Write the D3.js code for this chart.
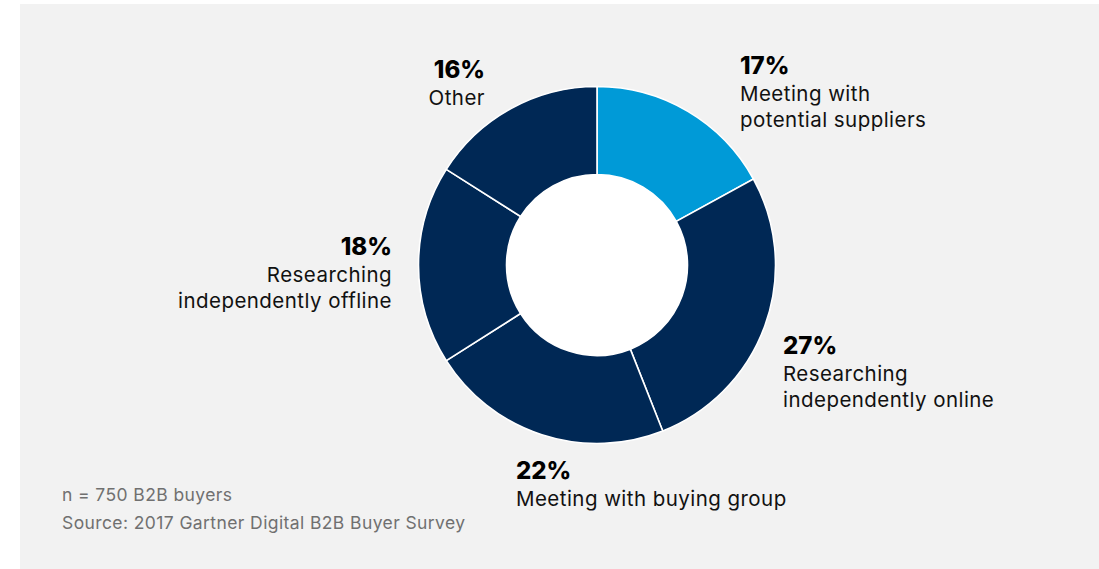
<!DOCTYPE html>
<html>
<head>
<meta charset="utf-8">
<script src="https://cdn.jsdelivr.net/npm/d3@7"></script>
<style>
  html, body { margin: 0; padding: 0; background: #ffffff; }
  svg { display: block; font-family: Inter, "Noto Sans", sans-serif; }
</style>
</head>
<body>
<svg id="chart" width="1099" height="569"></svg>
<script>
// ---- Data ----
const categories = ["Meeting with potential suppliers", "Researching independently online", "Meeting with buying group", "Researching independently offline", "Other"];
const values = [17, 27, 22, 18, 16];
const labelLines = [
  ["Meeting with", "potential suppliers"],
  ["Researching", "independently online"],
  ["Meeting with buying group"],
  ["Researching", "independently offline"],
  ["Other"]
];
const colors = ["#009ad7", "#002855", "#002855", "#002855", "#002855"];
const footnotes = ["n = 750 B2B buyers", "Source: 2017 Gartner Digital B2B Buyer Survey"];

// ---- Layout ----
const W = 1099, H = 569;
const cx = 597, cy = 265, outerR = 178.5, innerR = 90.5;
const labelPos = [
  { x: 740, y: 74, anchor: "start" },
  { x: 783, y: 354, anchor: "start" },
  { x: 516, y: 479, anchor: "start" },
  { x: 392, y: 255, anchor: "end" },
  { x: 485, y: 78, anchor: "end" }
];

const svg = d3.select("#chart");
svg.append("rect").attr("x", 20).attr("y", 4).attr("width", W - 20).attr("height", H - 4).attr("fill", "#f2f2f2");

const pie = d3.pie().sort(null).value(d => d);
const arc = d3.arc().innerRadius(innerR).outerRadius(outerR);
const arcs = pie(values);

const g = svg.append("g").attr("transform", `translate(${cx},${cy})`);
g.selectAll("path").data(arcs).join("path")
  .attr("d", arc)
  .attr("fill", (d, i) => colors[i])
  .attr("stroke", "#ffffff")
  .attr("stroke-width", 1.6);
g.append("circle").attr("r", innerR).attr("fill", "#ffffff");

arcs.forEach((d, i) => {
  const p = labelPos[i];
  const t = svg.append("text").attr("text-anchor", p.anchor).attr("fill", "#000");
  t.append("tspan").attr("x", p.x).attr("y", p.y)
    .attr("font-size", 24).attr("font-weight", 800)
    .text(d3.format("d")(d.data) + "%");
  labelLines[i].forEach((line, j) => {
    t.append("tspan").attr("x", p.x).attr("y", p.y + 27 + j * 26)
      .attr("font-size", 20.5).attr("font-weight", 400).attr("fill", "#111")
      .attr("letter-spacing", 0.45)
      .text(line);
  });
});

footnotes.forEach((f, i) => {
  svg.append("text").attr("x", 62).attr("y", 501 + i * 28)
    .attr("font-size", 17.5).attr("letter-spacing", 0.4).attr("fill", "#707070").text(f);
});
</script>
</body>
</html>
